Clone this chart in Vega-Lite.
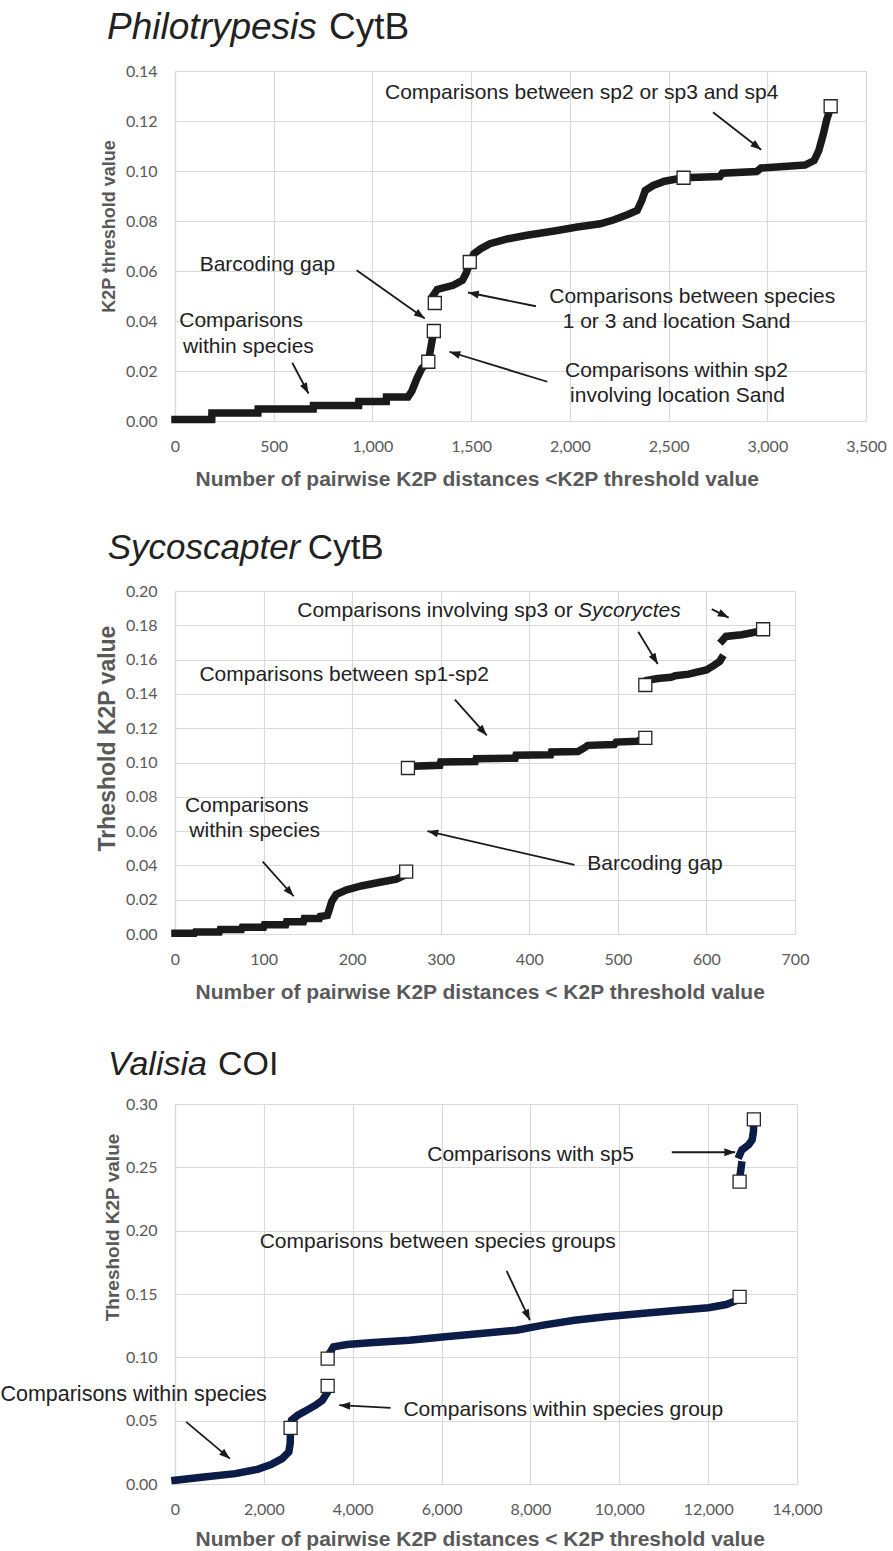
{
  "$schema": "https://vega.github.io/schema/vega-lite/v6.json",
  "background": "white",
  "padding": {"left": 0, "top": 9, "right": 0, "bottom": 3},
  "bounds": "flush",
  "spacing": 170,
  "config": {
    "view": {"stroke": null},
    "axis": {
      "grid": true, "gridColor": "#d9d9d9", "gridWidth": 1.2,
      "domainColor": "#d9d9d9", "domainWidth": 1.2,
      "ticks": false, "tickSize": 0,
      "labelFont": "Lato", "labelFontSize": 16, "labelColor": "#595959",
      "labelFlush": false, "labelOverlap": false, "labelBound": false,
      "titleFont": "Liberation Sans", "titleFontSize": 18, "titleFontWeight": "bold", "titleColor": "#595959"
    },
    "axisX": {"labelPadding": 17, "titlePadding": 14, "titleFontSize": 21, "titleX": 20, "titleAlign": "left"},
    "axisY": {"labelPadding": 18}
  },
  "datasets": {
    "p1_line": [
      {"x": 0, "y": 0.0006, "seg": "a"}, {"x": 186, "y": 0.0006, "seg": "a"},
      {"x": 187, "y": 0.0032, "seg": "a"}, {"x": 420, "y": 0.0032, "seg": "a"},
      {"x": 421, "y": 0.0048, "seg": "a"}, {"x": 700, "y": 0.0048, "seg": "a"},
      {"x": 701, "y": 0.0062, "seg": "a"}, {"x": 930, "y": 0.0062, "seg": "a"},
      {"x": 931, "y": 0.0078, "seg": "a"}, {"x": 1070, "y": 0.0078, "seg": "a"},
      {"x": 1071, "y": 0.0096, "seg": "a"}, {"x": 1180, "y": 0.0096, "seg": "a"},
      {"x": 1200, "y": 0.012, "seg": "a"}, {"x": 1225, "y": 0.017, "seg": "a"},
      {"x": 1250, "y": 0.021, "seg": "a"}, {"x": 1283, "y": 0.0237, "seg": "a"},
      {"x": 1295, "y": 0.029, "seg": "a"}, {"x": 1305, "y": 0.0335, "seg": "a"},
      {"x": 1311, "y": 0.036, "seg": "a"},
      {"x": 1310, "y": 0.0505, "seg": "b"}, {"x": 1328, "y": 0.0526, "seg": "b"},
      {"x": 1409, "y": 0.0543, "seg": "b"}, {"x": 1456, "y": 0.0563, "seg": "b"},
      {"x": 1474, "y": 0.059, "seg": "b"}, {"x": 1493, "y": 0.0632, "seg": "b"},
      {"x": 1514, "y": 0.0669, "seg": "b"}, {"x": 1549, "y": 0.0689, "seg": "b"},
      {"x": 1595, "y": 0.0709, "seg": "b"}, {"x": 1688, "y": 0.0729, "seg": "b"},
      {"x": 1782, "y": 0.0743, "seg": "b"}, {"x": 1921, "y": 0.076, "seg": "b"},
      {"x": 2038, "y": 0.0776, "seg": "b"}, {"x": 2154, "y": 0.0789, "seg": "b"},
      {"x": 2224, "y": 0.0805, "seg": "b"}, {"x": 2294, "y": 0.0826, "seg": "b"},
      {"x": 2341, "y": 0.0842, "seg": "b"}, {"x": 2364, "y": 0.0882, "seg": "b"},
      {"x": 2382, "y": 0.0922, "seg": "b"}, {"x": 2422, "y": 0.0942, "seg": "b"},
      {"x": 2480, "y": 0.0959, "seg": "b"}, {"x": 2576, "y": 0.0973, "seg": "b"},
      {"x": 2760, "y": 0.0978, "seg": "b"}, {"x": 2772, "y": 0.0991, "seg": "b"},
      {"x": 2946, "y": 0.0998, "seg": "b"}, {"x": 2969, "y": 0.1012, "seg": "b"},
      {"x": 3191, "y": 0.1024, "seg": "b"}, {"x": 3237, "y": 0.1042, "seg": "b"},
      {"x": 3261, "y": 0.1082, "seg": "b"}, {"x": 3284, "y": 0.1148, "seg": "b"},
      {"x": 3300, "y": 0.1202, "seg": "b"}, {"x": 3321, "y": 0.1255, "seg": "b"}
    ],
    "p1_markers": [
      {"x": 1283, "y": 0.0237}, {"x": 1311, "y": 0.036}, {"x": 1316, "y": 0.0472},
      {"x": 1493, "y": 0.0636}, {"x": 2576, "y": 0.0973}, {"x": 3321, "y": 0.1259}
    ],
    "p1_arrows": [
      {"x": 2725, "y": 0.1235, "x2": 2969, "y2": 0.1085},
      {"x": 920, "y": 0.0603, "x2": 1265, "y2": 0.041},
      {"x": 594, "y": 0.0233, "x2": 676, "y2": 0.011},
      {"x": 1828, "y": 0.0459, "x2": 1484, "y2": 0.0514},
      {"x": 1886, "y": 0.0157, "x2": 1390, "y2": 0.0277}
    ],
    "p1_heads": [
      {"x": 2969, "y": 0.1085, "angle": 128},
      {"x": 1265, "y": 0.041, "angle": 125},
      {"x": 676, "y": 0.011, "angle": 152},
      {"x": 1484, "y": 0.0514, "angle": -79},
      {"x": 1390, "y": 0.0277, "angle": -73}
    ],
    "p1_text": [
      {"x": 2060, "y": 0.1314, "t": "Comparisons between sp2 or sp3 and sp4"},
      {"x": 468, "y": 0.0625, "t": "Barcoding gap"},
      {"x": 335, "y": 0.0401, "t": "Comparisons"},
      {"x": 372, "y": 0.0296, "t": "within species"},
      {"x": 2620, "y": 0.0496, "t": "Comparisons between species"},
      {"x": 2540, "y": 0.0397, "t": "1 or 3 and location Sand"},
      {"x": 2540, "y": 0.0202, "t": "Comparisons within sp2"},
      {"x": 2545, "y": 0.0101, "t": "involving location Sand"}
    ],
    "p1_title_i": [{"x": -344, "y": 0.1528, "t": "Philotrypesis"}],
    "p1_title_n": [{"x": 780, "y": 0.1528, "t": "CytB"}],
    "p2_line": [
      {"x": 0, "y": 0.0004, "seg": "a"}, {"x": 22, "y": 0.0004, "seg": "a"},
      {"x": 23, "y": 0.0012, "seg": "a"}, {"x": 50, "y": 0.0012, "seg": "a"},
      {"x": 51, "y": 0.0026, "seg": "a"}, {"x": 75, "y": 0.0026, "seg": "a"},
      {"x": 76, "y": 0.004, "seg": "a"}, {"x": 100, "y": 0.004, "seg": "a"},
      {"x": 101, "y": 0.0054, "seg": "a"}, {"x": 125, "y": 0.0054, "seg": "a"},
      {"x": 126, "y": 0.0072, "seg": "a"}, {"x": 145, "y": 0.0072, "seg": "a"},
      {"x": 146, "y": 0.009, "seg": "a"}, {"x": 163, "y": 0.009, "seg": "a"},
      {"x": 164, "y": 0.0102, "seg": "a"}, {"x": 172, "y": 0.0108, "seg": "a"},
      {"x": 174, "y": 0.014, "seg": "a"}, {"x": 177, "y": 0.019, "seg": "a"},
      {"x": 182, "y": 0.023, "seg": "a"}, {"x": 193, "y": 0.0256, "seg": "a"},
      {"x": 210, "y": 0.028, "seg": "a"}, {"x": 230, "y": 0.03, "seg": "a"},
      {"x": 250, "y": 0.032, "seg": "a"}, {"x": 258, "y": 0.034, "seg": "a"},
      {"x": 266, "y": 0.0978, "seg": "b"}, {"x": 299, "y": 0.0984, "seg": "b"},
      {"x": 300, "y": 0.1003, "seg": "b"}, {"x": 339, "y": 0.1006, "seg": "b"},
      {"x": 340, "y": 0.1022, "seg": "b"}, {"x": 384, "y": 0.1025, "seg": "b"},
      {"x": 385, "y": 0.1042, "seg": "b"}, {"x": 424, "y": 0.1045, "seg": "b"},
      {"x": 425, "y": 0.1061, "seg": "b"}, {"x": 455, "y": 0.1064, "seg": "b"},
      {"x": 462, "y": 0.1085, "seg": "b"}, {"x": 466, "y": 0.11, "seg": "b"},
      {"x": 496, "y": 0.1105, "seg": "b"}, {"x": 498, "y": 0.1119, "seg": "b"},
      {"x": 522, "y": 0.1124, "seg": "b"}, {"x": 531, "y": 0.1144, "seg": "b"},
      {"x": 534, "y": 0.148, "seg": "c"}, {"x": 545, "y": 0.149, "seg": "c"},
      {"x": 560, "y": 0.1497, "seg": "c"}, {"x": 565, "y": 0.1506, "seg": "c"},
      {"x": 580, "y": 0.1515, "seg": "c"}, {"x": 588, "y": 0.1526, "seg": "c"},
      {"x": 600, "y": 0.154, "seg": "c"}, {"x": 608, "y": 0.1565, "seg": "c"},
      {"x": 615, "y": 0.159, "seg": "c"}, {"x": 617, "y": 0.1607, "seg": "c"},
      {"x": 618, "y": 0.1712, "seg": "d"}, {"x": 622, "y": 0.1735, "seg": "d"},
      {"x": 640, "y": 0.1745, "seg": "d"}, {"x": 650, "y": 0.1755, "seg": "d"},
      {"x": 660, "y": 0.1765, "seg": "d"}, {"x": 664, "y": 0.1777, "seg": "d"}
    ],
    "p2_markers": [
      {"x": 261, "y": 0.0364}, {"x": 263, "y": 0.0968}, {"x": 531, "y": 0.1144},
      {"x": 531, "y": 0.1452}, {"x": 664, "y": 0.1777}
    ],
    "p2_arrows": [
      {"x": 606, "y": 0.1894, "x2": 625, "y2": 0.1845},
      {"x": 523, "y": 0.1762, "x2": 545, "y2": 0.1574},
      {"x": 316, "y": 0.1367, "x2": 352, "y2": 0.1158},
      {"x": 99, "y": 0.0422, "x2": 134, "y2": 0.022},
      {"x": 451, "y": 0.0403, "x2": 285, "y2": 0.06}
    ],
    "p2_heads": [
      {"x": 625, "y": 0.1845, "angle": 117},
      {"x": 545, "y": 0.1574, "angle": 149},
      {"x": 352, "y": 0.1158, "angle": 138},
      {"x": 134, "y": 0.022, "angle": 138},
      {"x": 285, "y": 0.06, "angle": -77}
    ],
    "p2_text": [
      {"x": 191, "y": 0.1512, "t": "Comparisons between sp1-sp2"},
      {"x": 81, "y": 0.0747, "t": "Comparisons"},
      {"x": 90, "y": 0.06, "t": "within species"},
      {"x": 542, "y": 0.0409, "t": "Barcoding gap"}
    ],
    "p2_text_r": [{"x": 449, "y": 0.1885, "t": "Comparisons involving sp3 or"}],
    "p2_text_i": [{"x": 455, "y": 0.1885, "t": "Sycoryctes"}],
    "p2_title_i": [{"x": -76, "y": 0.2187, "t": "Sycoscapter"}],
    "p2_title_n": [{"x": 150, "y": 0.2187, "t": "CytB"}],
    "p3_line": [
      {"x": 0, "y": 0.0029, "seg": "a"}, {"x": 653, "y": 0.0055, "seg": "a"},
      {"x": 1356, "y": 0.0082, "seg": "a"}, {"x": 1858, "y": 0.0116, "seg": "a"},
      {"x": 2160, "y": 0.0153, "seg": "a"}, {"x": 2411, "y": 0.02, "seg": "a"},
      {"x": 2562, "y": 0.0253, "seg": "a"}, {"x": 2592, "y": 0.0319, "seg": "a"},
      {"x": 2602, "y": 0.0443, "seg": "a"}, {"x": 2622, "y": 0.0503, "seg": "a"},
      {"x": 2763, "y": 0.0543, "seg": "a"}, {"x": 2964, "y": 0.0582, "seg": "a"},
      {"x": 3164, "y": 0.0622, "seg": "a"}, {"x": 3315, "y": 0.0661, "seg": "a"},
      {"x": 3436, "y": 0.0727, "seg": "a"},
      {"x": 3500, "y": 0.1045, "seg": "b"}, {"x": 3566, "y": 0.1083, "seg": "b"},
      {"x": 3868, "y": 0.1101, "seg": "b"}, {"x": 4470, "y": 0.1117, "seg": "b"},
      {"x": 5274, "y": 0.1135, "seg": "b"}, {"x": 6078, "y": 0.1162, "seg": "b"},
      {"x": 6882, "y": 0.1188, "seg": "b"}, {"x": 7685, "y": 0.1214, "seg": "b"},
      {"x": 8288, "y": 0.1254, "seg": "b"}, {"x": 8991, "y": 0.1293, "seg": "b"},
      {"x": 9694, "y": 0.132, "seg": "b"}, {"x": 10498, "y": 0.1346, "seg": "b"},
      {"x": 11201, "y": 0.1367, "seg": "b"}, {"x": 12005, "y": 0.1391, "seg": "b"},
      {"x": 12407, "y": 0.1417, "seg": "b"}, {"x": 12608, "y": 0.1444, "seg": "b"},
      {"x": 12708, "y": 0.1478, "seg": "b"},
      {"x": 12708, "y": 0.2387, "seg": "c"}, {"x": 12720, "y": 0.244, "seg": "c"},
      {"x": 12750, "y": 0.2518, "seg": "c"},
      {"x": 12708, "y": 0.2597, "seg": "d"}, {"x": 12758, "y": 0.2637, "seg": "d"},
      {"x": 12909, "y": 0.2677, "seg": "d"}, {"x": 12989, "y": 0.2716, "seg": "d"},
      {"x": 13020, "y": 0.2782, "seg": "d"}, {"x": 13029, "y": 0.2879, "seg": "d"}
    ],
    "p3_markers": [
      {"x": 2602, "y": 0.0443}, {"x": 3436, "y": 0.0775}, {"x": 3436, "y": 0.099},
      {"x": 12708, "y": 0.1478}, {"x": 12708, "y": 0.2387}, {"x": 13029, "y": 0.2879}
    ],
    "p3_arrows": [
      {"x": 11181, "y": 0.2619, "x2": 12608, "y2": 0.2619},
      {"x": 7464, "y": 0.1683, "x2": 7987, "y2": 0.1293},
      {"x": 4852, "y": 0.0601, "x2": 3697, "y2": 0.0622},
      {"x": 251, "y": 0.049, "x2": 1236, "y2": 0.02}
    ],
    "p3_heads": [
      {"x": 12608, "y": 0.2619, "angle": 90},
      {"x": 7987, "y": 0.1293, "angle": 155},
      {"x": 3697, "y": 0.0622, "angle": -87},
      {"x": 1236, "y": 0.02, "angle": 130}
    ],
    "p3_text": [
      {"x": 8002, "y": 0.2597, "t": "Comparisons with sp5"},
      {"x": 5912, "y": 0.1913, "t": "Comparisons between species groups"},
      {"x": 8740, "y": 0.0582, "t": "Comparisons within species group"}
    ],
    "p3_text_l": [{"x": -3930, "y": 0.0706, "t": "Comparisons within species"}],
    "p3_title_i": [{"x": -1508, "y": 0.3229, "t": "Valisia"}],
    "p3_title_n": [{"x": 968, "y": 0.3229, "t": "COI"}]
  },
  "vconcat": [
    {
      "width": 691, "height": 350,
      "encoding": {
        "x": {"field": "x", "type": "quantitative", "scale": {"domain": [0, 3500], "nice": false, "zero": false},
              "axis": {"values": [0, 500, 1000, 1500, 2000, 2500, 3000, 3500], "format": ",d", "title": "Number of pairwise K2P distances <K2P threshold value"}},
        "y": {"field": "y", "type": "quantitative", "scale": {"domain": [0, 0.14], "nice": false, "zero": false},
              "axis": {"values": [0, 0.02, 0.04, 0.06, 0.08, 0.1, 0.12, 0.14], "format": ".2f", "title": "K2P threshold value", "titleY": 155, "titleFontSize": 18, "titlePadding": 7}}
      },
      "layer": [
        {"data": {"name": "p1_line"}, "mark": {"type": "line", "stroke": "#1a1a1a", "strokeWidth": 7.5, "strokeCap": "square"}, "encoding": {"detail": {"field": "seg"}}},
        {"data": {"name": "p1_markers"}, "mark": {"type": "point", "shape": "square", "filled": true, "fill": "white", "stroke": "#262626", "strokeWidth": 1.3, "size": 169, "opacity": 1}},
        {"data": {"name": "p1_arrows"}, "mark": {"type": "rule", "stroke": "#1a1a1a", "strokeWidth": 1.8}, "encoding": {"x2": {"field": "x2"}, "y2": {"field": "y2"}}},
        {"data": {"name": "p1_heads"}, "mark": {"type": "point", "shape": "M0,0L0.65,1.8L-0.65,1.8Z", "filled": true, "fill": "#1a1a1a", "strokeWidth": 0, "size": 144, "opacity": 1},
         "encoding": {"angle": {"field": "angle", "type": "quantitative", "scale": null}}},
        {"data": {"name": "p1_text"}, "mark": {"type": "text", "font": "Liberation Sans", "fontSize": 21, "fill": "#222222", "align": "center", "baseline": "middle"}, "encoding": {"text": {"field": "t"}}},
        {"data": {"name": "p1_title_i"}, "mark": {"type": "text", "font": "Liberation Sans", "fontSize": 37, "fontStyle": "italic", "fill": "#222222", "align": "left", "baseline": "alphabetic"}, "encoding": {"text": {"field": "t"}}},
        {"data": {"name": "p1_title_n"}, "mark": {"type": "text", "font": "Liberation Sans", "fontSize": 37, "fill": "#222222", "align": "left", "baseline": "alphabetic"}, "encoding": {"text": {"field": "t"}}}
      ]
    },
    {
      "width": 620, "height": 343,
      "encoding": {
        "x": {"field": "x", "type": "quantitative", "scale": {"domain": [0, 700], "nice": false, "zero": false},
              "axis": {"values": [0, 100, 200, 300, 400, 500, 600, 700], "format": ",d", "title": "Number of pairwise K2P distances < K2P threshold value"}},
        "y": {"field": "y", "type": "quantitative", "scale": {"domain": [0, 0.2], "nice": false, "zero": false},
              "axis": {"values": [0, 0.02, 0.04, 0.06, 0.08, 0.1, 0.12, 0.14, 0.16, 0.18, 0.2], "format": ".2f", "title": "Trheshold K2P value", "titleY": 147, "titleFontSize": 23, "titlePadding": 6}}
      },
      "layer": [
        {"data": {"name": "p2_line"}, "mark": {"type": "line", "stroke": "#1a1a1a", "strokeWidth": 7.5, "strokeCap": "square"}, "encoding": {"detail": {"field": "seg"}}},
        {"data": {"name": "p2_markers"}, "mark": {"type": "point", "shape": "square", "filled": true, "fill": "white", "stroke": "#262626", "strokeWidth": 1.3, "size": 169, "opacity": 1}},
        {"data": {"name": "p2_arrows"}, "mark": {"type": "rule", "stroke": "#1a1a1a", "strokeWidth": 1.8}, "encoding": {"x2": {"field": "x2"}, "y2": {"field": "y2"}}},
        {"data": {"name": "p2_heads"}, "mark": {"type": "point", "shape": "M0,0L0.65,1.8L-0.65,1.8Z", "filled": true, "fill": "#1a1a1a", "strokeWidth": 0, "size": 144, "opacity": 1},
         "encoding": {"angle": {"field": "angle", "type": "quantitative", "scale": null}}},
        {"data": {"name": "p2_text"}, "mark": {"type": "text", "font": "Liberation Sans", "fontSize": 21, "fill": "#222222", "align": "center", "baseline": "middle"}, "encoding": {"text": {"field": "t"}}},
        {"data": {"name": "p2_text_r"}, "mark": {"type": "text", "font": "Liberation Sans", "fontSize": 21, "fill": "#222222", "align": "right", "baseline": "middle"}, "encoding": {"text": {"field": "t"}}},
        {"data": {"name": "p2_text_i"}, "mark": {"type": "text", "font": "Liberation Sans", "fontSize": 21, "fontStyle": "italic", "fill": "#222222", "align": "left", "baseline": "middle"}, "encoding": {"text": {"field": "t"}}},
        {"data": {"name": "p2_title_i"}, "mark": {"type": "text", "font": "Liberation Sans", "fontSize": 35, "fontStyle": "italic", "fill": "#222222", "align": "left", "baseline": "alphabetic"}, "encoding": {"text": {"field": "t"}}},
        {"data": {"name": "p2_title_n"}, "mark": {"type": "text", "font": "Liberation Sans", "fontSize": 35, "fill": "#222222", "align": "left", "baseline": "alphabetic"}, "encoding": {"text": {"field": "t"}}}
      ]
    },
    {
      "width": 622, "height": 380,
      "encoding": {
        "x": {"field": "x", "type": "quantitative", "scale": {"domain": [0, 14000], "nice": false, "zero": false},
              "axis": {"values": [0, 2000, 4000, 6000, 8000, 10000, 12000, 14000], "format": ",d", "title": "Number of pairwise K2P distances < K2P threshold value", "titlePadding": 11}},
        "y": {"field": "y", "type": "quantitative", "scale": {"domain": [0, 0.3], "nice": false, "zero": false},
              "axis": {"values": [0, 0.05, 0.1, 0.15, 0.2, 0.25, 0.3], "format": ".2f", "title": "Threshold K2P value", "titleY": 123, "titleFontSize": 19, "titlePadding": 3}}
      },
      "layer": [
        {"data": {"name": "p3_line"}, "mark": {"type": "line", "stroke": "#0b1c48", "strokeWidth": 7.5, "strokeCap": "square"}, "encoding": {"detail": {"field": "seg"}}},
        {"data": {"name": "p3_markers"}, "mark": {"type": "point", "shape": "square", "filled": true, "fill": "white", "stroke": "#262626", "strokeWidth": 1.3, "size": 169, "opacity": 1}},
        {"data": {"name": "p3_arrows"}, "mark": {"type": "rule", "stroke": "#1a1a1a", "strokeWidth": 1.8}, "encoding": {"x2": {"field": "x2"}, "y2": {"field": "y2"}}},
        {"data": {"name": "p3_heads"}, "mark": {"type": "point", "shape": "M0,0L0.65,1.8L-0.65,1.8Z", "filled": true, "fill": "#1a1a1a", "strokeWidth": 0, "size": 144, "opacity": 1},
         "encoding": {"angle": {"field": "angle", "type": "quantitative", "scale": null}}},
        {"data": {"name": "p3_text"}, "mark": {"type": "text", "font": "Liberation Sans", "fontSize": 21, "fill": "#222222", "align": "center", "baseline": "middle"}, "encoding": {"text": {"field": "t"}}},
        {"data": {"name": "p3_text_l"}, "mark": {"type": "text", "font": "Liberation Sans", "fontSize": 21.5, "fill": "#222222", "align": "left", "baseline": "middle"}, "encoding": {"text": {"field": "t"}}},
        {"data": {"name": "p3_title_i"}, "mark": {"type": "text", "font": "Liberation Sans", "fontSize": 34, "fontStyle": "italic", "fill": "#222222", "align": "left", "baseline": "alphabetic"}, "encoding": {"text": {"field": "t"}}},
        {"data": {"name": "p3_title_n"}, "mark": {"type": "text", "font": "Liberation Sans", "fontSize": 34, "fill": "#222222", "align": "left", "baseline": "alphabetic"}, "encoding": {"text": {"field": "t"}}}
      ]
    }
  ]
}
